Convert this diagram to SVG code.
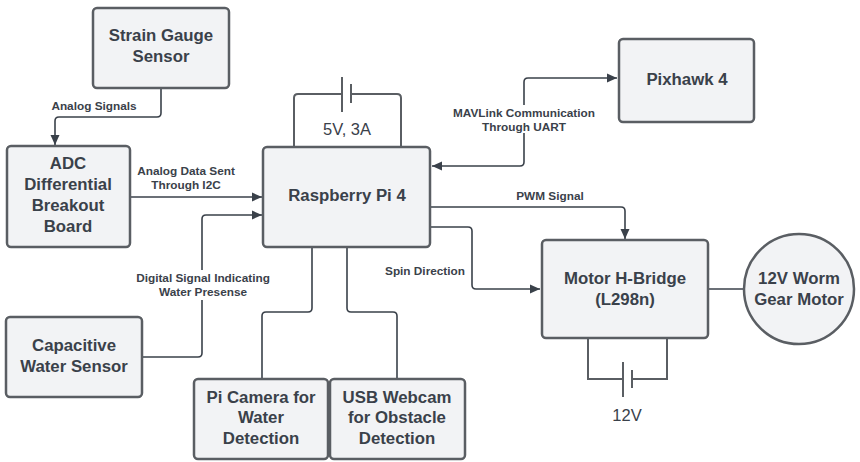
<svg xmlns="http://www.w3.org/2000/svg" width="860" height="462" viewBox="0 0 860 462">
<defs>
<marker id="arr" viewBox="0 0 10 10" refX="10" refY="5" markerWidth="10" markerHeight="10" markerUnits="userSpaceOnUse" orient="auto-start-reverse">
<path d="M0,0.5 L10,5 L0,9.5 Z" fill="#3a414a"/>
</marker>
<style>
.box{fill:#f2f3f5;stroke:#5a5e63;stroke-width:2.5}
.t{font-family:"Liberation Sans",Arial,sans-serif;font-weight:bold;font-size:16.8px;fill:#3a414a;text-anchor:middle}
.l{font-family:"Liberation Sans",Arial,sans-serif;font-weight:bold;font-size:11.8px;fill:#3a414a;text-anchor:middle}
.r{font-family:"Liberation Sans",Arial,sans-serif;font-size:16.5px;fill:#3a414a;text-anchor:middle}
.c{fill:none;stroke:#3a414a;stroke-width:1.6}
.w{fill:none;stroke:#5a5e63;stroke-width:2}
</style>
</defs>
<rect width="860" height="462" fill="#ffffff"/>

<g id="connectors">
<path class="c" d="M161,88 V113 Q161,117 157,117 H59 Q55,117 55,121 V145" marker-end="url(#arr)"/>
<path class="c" d="M130,197 H262" marker-end="url(#arr)"/>
<path class="c" d="M142,357 H198 Q202,357 202,353 V219 Q202,215 206,215 H262" marker-end="url(#arr)"/>
<path class="c" d="M432,166 H520 Q524,166 524,162 V82 Q524,78 528,78 H617" marker-start="url(#arr)" marker-end="url(#arr)"/>
<path class="c" d="M430,207 H621 Q625,207 625,211 V239" marker-end="url(#arr)"/>
<path class="c" d="M430,227 H468 Q472,227 472,231 V285 Q472,289 476,289 H540" marker-end="url(#arr)"/>
<path class="c" d="M708,289 H744"/>
<path class="c" d="M312,247 V308 Q312,312 308,312 H266 Q262,312 262,316 V379"/>
<path class="c" d="M347,247 V308 Q347,312 351,312 H393 Q397,312 397,316 V379"/>
<!-- 5V battery -->
<path class="w" d="M294,147 V98 Q294,94 298,94 H342 M351,94 H397 Q401,94 401,98 V147"/>
<path class="w" d="M342,77 V112 M351,84 V103"/>
<!-- 12V battery -->
<path class="w" d="M588,338 V379 H623 M632,379 H667 V338"/>
<path class="w" d="M623,362 V397 M632,370 V388"/>
<rect x="448" y="105" width="152" height="28" fill="#ffffff"/>
<rect x="128" y="270" width="150" height="30" fill="#ffffff"/>
<text class="l" x="94" y="110">Analog Signals</text>
<text class="l" x="186" y="175">Analog Data Sent</text>
<text class="l" x="186" y="189">Through I2C</text>
<text class="l" x="203" y="282">Digital Signal Indicating</text>
<text class="l" x="203" y="296">Water Presense</text>
<text class="l" x="524" y="117">MAVLink Communication</text>
<text class="l" x="524" y="131">Through UART</text>
<text class="l" x="550" y="200">PWM Signal</text>
<text class="l" x="425" y="275">Spin Direction</text>
<text class="r" x="347" y="135">5V, 3A</text>
<text class="r" x="627" y="421">12V</text>
</g>

<g id="strain">
<rect class="box" x="93" y="8" width="136" height="80" rx="4"/>
<text class="t" x="161" y="41">Strain Gauge</text>
<text class="t" x="161" y="62">Sensor</text>
</g>
<g id="adc">
<rect class="box" x="7" y="146" width="123" height="101" rx="4"/>
<text class="t" x="68" y="169">ADC</text>
<text class="t" x="68" y="190">Differential</text>
<text class="t" x="68" y="211">Breakout</text>
<text class="t" x="68" y="232">Board</text>
</g>
<g id="capacitive">
<rect class="box" x="6" y="317" width="136" height="80" rx="4"/>
<text class="t" x="74" y="351">Capacitive</text>
<text class="t" x="74" y="372">Water Sensor</text>
</g>
<g id="pi">
<rect class="box" x="263" y="147" width="167" height="100" rx="4"/>
<text class="t" x="347" y="201">Raspberry Pi 4</text>
</g>
<g id="pixhawk">
<rect class="box" x="619" y="39" width="135" height="83" rx="4"/>
<text class="t" x="687" y="85">Pixhawk 4</text>
</g>
<g id="hbridge">
<rect class="box" x="542" y="240" width="166" height="98" rx="4"/>
<text class="t" x="625" y="284">Motor H-Bridge</text>
<text class="t" x="625" y="305">(L298n)</text>
</g>
<g id="motor">
<circle class="box" cx="799" cy="289" r="55"/>
<text class="t" x="799" y="284">12V Worm</text>
<text class="t" x="799" y="305">Gear Motor</text>
</g>
<g id="picamera">
<rect class="box" x="194" y="379" width="134" height="80" rx="4"/>
<text class="t" x="261" y="403">Pi Camera for</text>
<text class="t" x="261" y="423">Water</text>
<text class="t" x="261" y="444">Detection</text>
</g>
<g id="webcam">
<rect class="box" x="330" y="379" width="135" height="80" rx="4"/>
<text class="t" x="397" y="403">USB Webcam</text>
<text class="t" x="397" y="423">for Obstacle</text>
<text class="t" x="397" y="444">Detection</text>
</g>
</svg>
